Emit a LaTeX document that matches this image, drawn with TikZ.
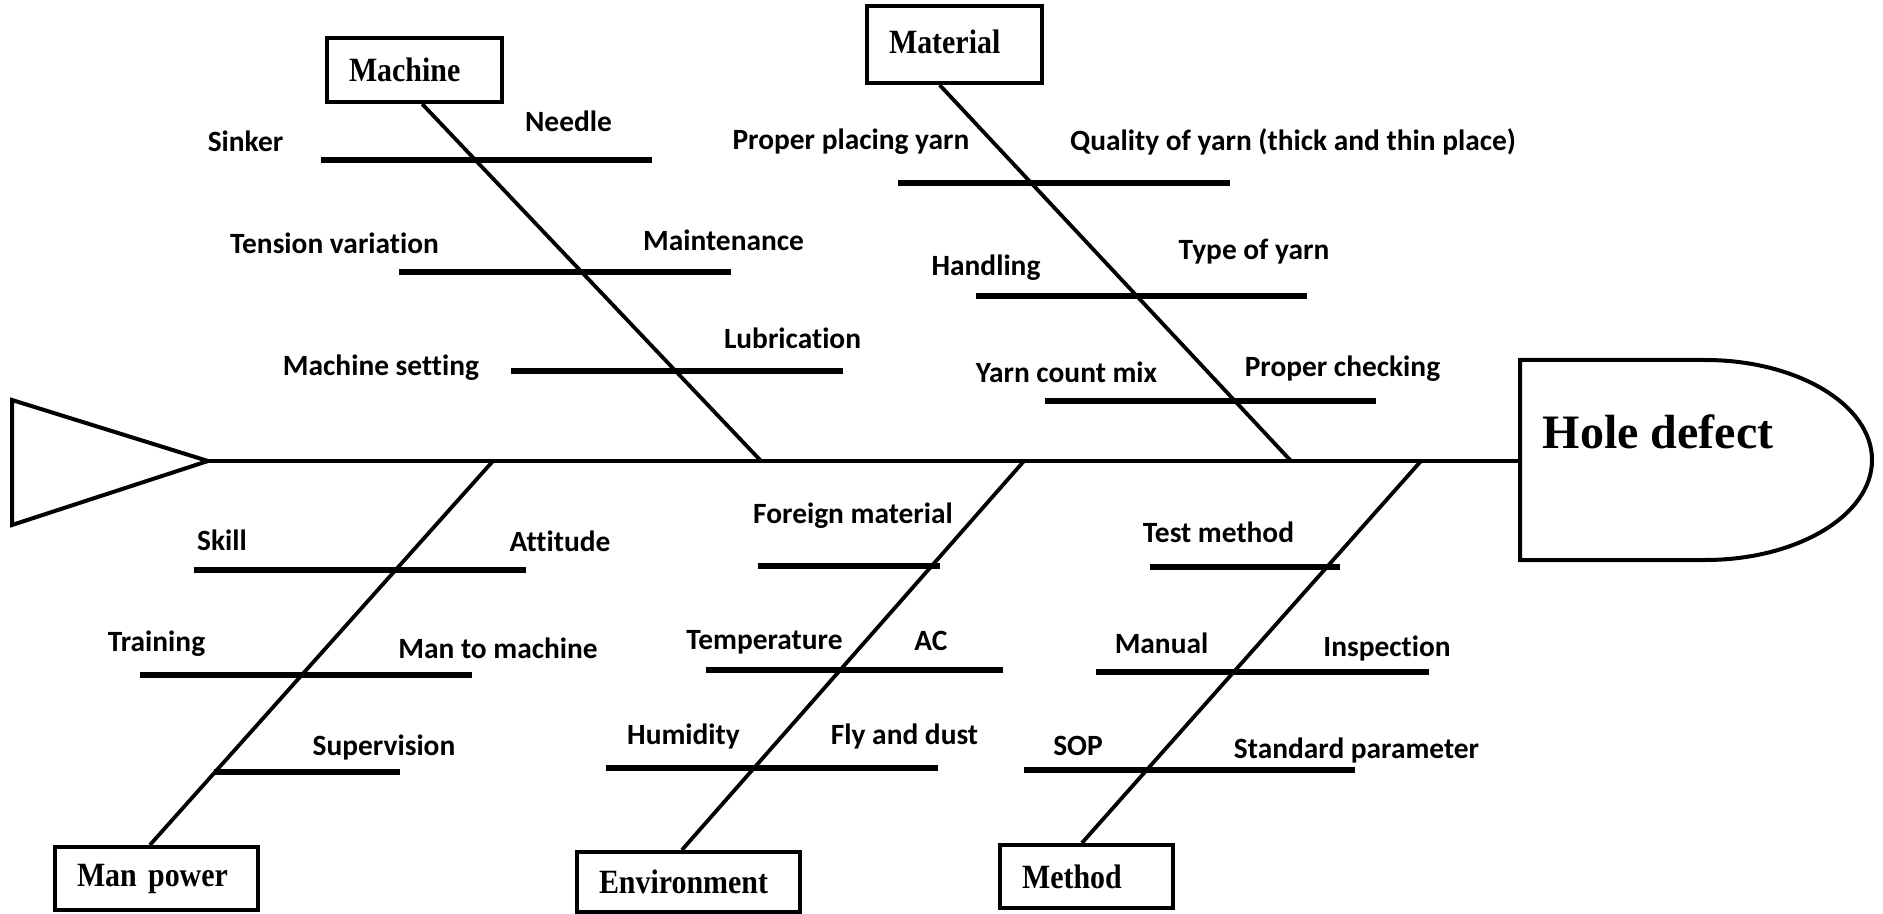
\documentclass[tikz,border=0pt]{standalone}
\usepackage{fontspec}
\setmainfont[Ligatures=NoCommon]{Carlito}
\newfontfamily\catfont[FakeStretch=0.88]{Liberation Serif}
\newfontfamily\effectfont{Liberation Serif}
\usetikzlibrary{calc}

\begin{document}
\begin{tikzpicture}[x=0.5pt,y=-0.5pt,
  lbl/.style={font=\bfseries\fontsize{14.7}{16}\selectfont, anchor=base, inner sep=0pt},
  catbox/.style={draw, line width=2pt, font=\catfont\bfseries\fontsize{17}{19}\selectfont,
    align=left, inner xsep=11pt, inner ysep=0pt},
  bone/.style={line width=1.9pt},
  rib/.style={line width=2.8pt},
  spine/.style={line width=2pt},
]
\useasboundingbox (0,0) rectangle (1883,914);

% ---------- head and tail ----------
\coordinate (tailtip) at (208,461);
\coordinate (head) at (1520,461);
\draw[line width=2pt, line join=miter] (12,400) -- (tailtip) -- (12,525) -- cycle;
\draw[line width=2pt] (1520,360) -- (1705,360)
  arc[start angle=-90, end angle=90, x radius=167, y radius=100]
  -- (1520,560) -- cycle;
\node[font=\effectfont\bfseries\fontsize{24}{28}\selectfont, anchor=base, inner sep=0pt]
  (effect) at (1658,448) {Hole defect};
\draw[spine] (tailtip) -- (head);

% ---------- category boxes ----------
\node[catbox, minimum height=32pt, text width=65.5pt] (mach) at (414.5,70) {Machine};
\node[catbox, minimum height=38.5pt, text width=65.5pt] (mat) at (954.5,44.5) {\raisebox{3pt}{Material}};
\node[catbox, minimum height=31.5pt, text width=79.5pt] (man) at (156.5,878.5) {Man power};
\node[catbox, minimum height=30pt, text width=89.5pt] (env) at (688.5,882) {Environment};
\node[catbox, minimum height=31.5pt, text width=64.5pt] (meth) at (1086.5,876.5) {Method};

% ---------- joints on the spine ----------
\coordinate (jMach) at (761,461);
\coordinate (jMat)  at (1291,461);
\coordinate (jMan)  at (493,461);
\coordinate (jEnv)  at (1024,461);
\coordinate (jMeth) at (1421,461);

% ---------- main bones ----------
\draw[bone] ($(mach.south west)!0.543!(mach.south east)$) -- (jMach);
\draw[bone] ($(mat.south west)!0.417!(mat.south east)$) -- (jMat);
\draw[bone] ($(man.north west)!0.468!(man.north east)$) -- (jMan);
\draw[bone] ($(env.north west)!0.471!(env.north east)$) -- (jEnv);
\draw[bone] ($(meth.north west)!0.474!(meth.north east)$) -- (jMeth);

% ---------- ribs ----------
\draw[rib] (321,160) -- (652,160);
\draw[rib] (399,272) -- (731,272);
\draw[rib] (511,371) -- (843,371);
\draw[rib] (898,183) -- (1230,183);
\draw[rib] (976,296) -- (1307,296);
\draw[rib] (1045,401) -- (1376,401);
\draw[rib] (194,570) -- (526,570);
\draw[rib] (140,675) -- (472,675);
\draw[rib] (214,772) -- (400,772);
\draw[rib] (758,566) -- (940,566);
\draw[rib] (706,670) -- (1003,670);
\draw[rib] (606,768) -- (938,768);
\draw[rib] (1150,567) -- (1340,567);
\draw[rib] (1096,672) -- (1429,672);
\draw[rib] (1024,770) -- (1355,770);

% ---------- causes: machine ----------
\node[lbl] (c1)  at (245.5,152) {Sinker};
\node[lbl] (c2)  at (568.5,132) {Needle};
\node[lbl] (c3)  at (334.5,254) {Tension variation};
\node[lbl] (c4)  at (723.5,251) {Maintenance};
\node[lbl] (c5)  at (381,375)   {Machine setting};
\node[lbl] (c6)  at (792.5,349) {Lubrication};
% ---------- causes: material ----------
\node[lbl] (c7)  at (851,150)   {Proper placing yarn};
\node[lbl] (c8)  at (1293,151)  {Quality of yarn (thick and thin place)};
\node[lbl] (c9)  at (986,276)   {Handling};
\node[lbl] (c10) at (1254,260)  {Type of yarn};
\node[lbl] (c11) at (1066.5,382) {Yarn count mix};
\node[lbl] (c12) at (1342.5,377) {Proper checking};
% ---------- causes: man power ----------
\node[lbl] (c13) at (222,550)   {Skill};
\node[lbl] (c14) at (560,551)   {Attitude};
\node[lbl] (c15) at (156.5,651) {Training};
\node[lbl] (c16) at (498,658)   {Man to machine};
\node[lbl] (c17) at (384,755)   {Supervision};
% ---------- causes: environment ----------
\node[lbl] (c18) at (853,523)   {Foreign material};
\node[lbl] (c19) at (764.5,649) {Temperature};
\node[lbl] (c20) at (931,650)   {AC};
\node[lbl] (c21) at (683.5,744) {Humidity};
\node[lbl] (c22) at (904.5,744) {Fly and dust};
% ---------- causes: method ----------
\node[lbl] (c23) at (1218.5,542) {Test method};
\node[lbl] (c24) at (1161.5,653) {Manual};
\node[lbl] (c25) at (1387,656)   {Inspection};
\node[lbl] (c26) at (1078,755)   {SOP};
\node[lbl] (c27) at (1356.5,758) {Standard parameter};
\end{tikzpicture}
\end{document}
